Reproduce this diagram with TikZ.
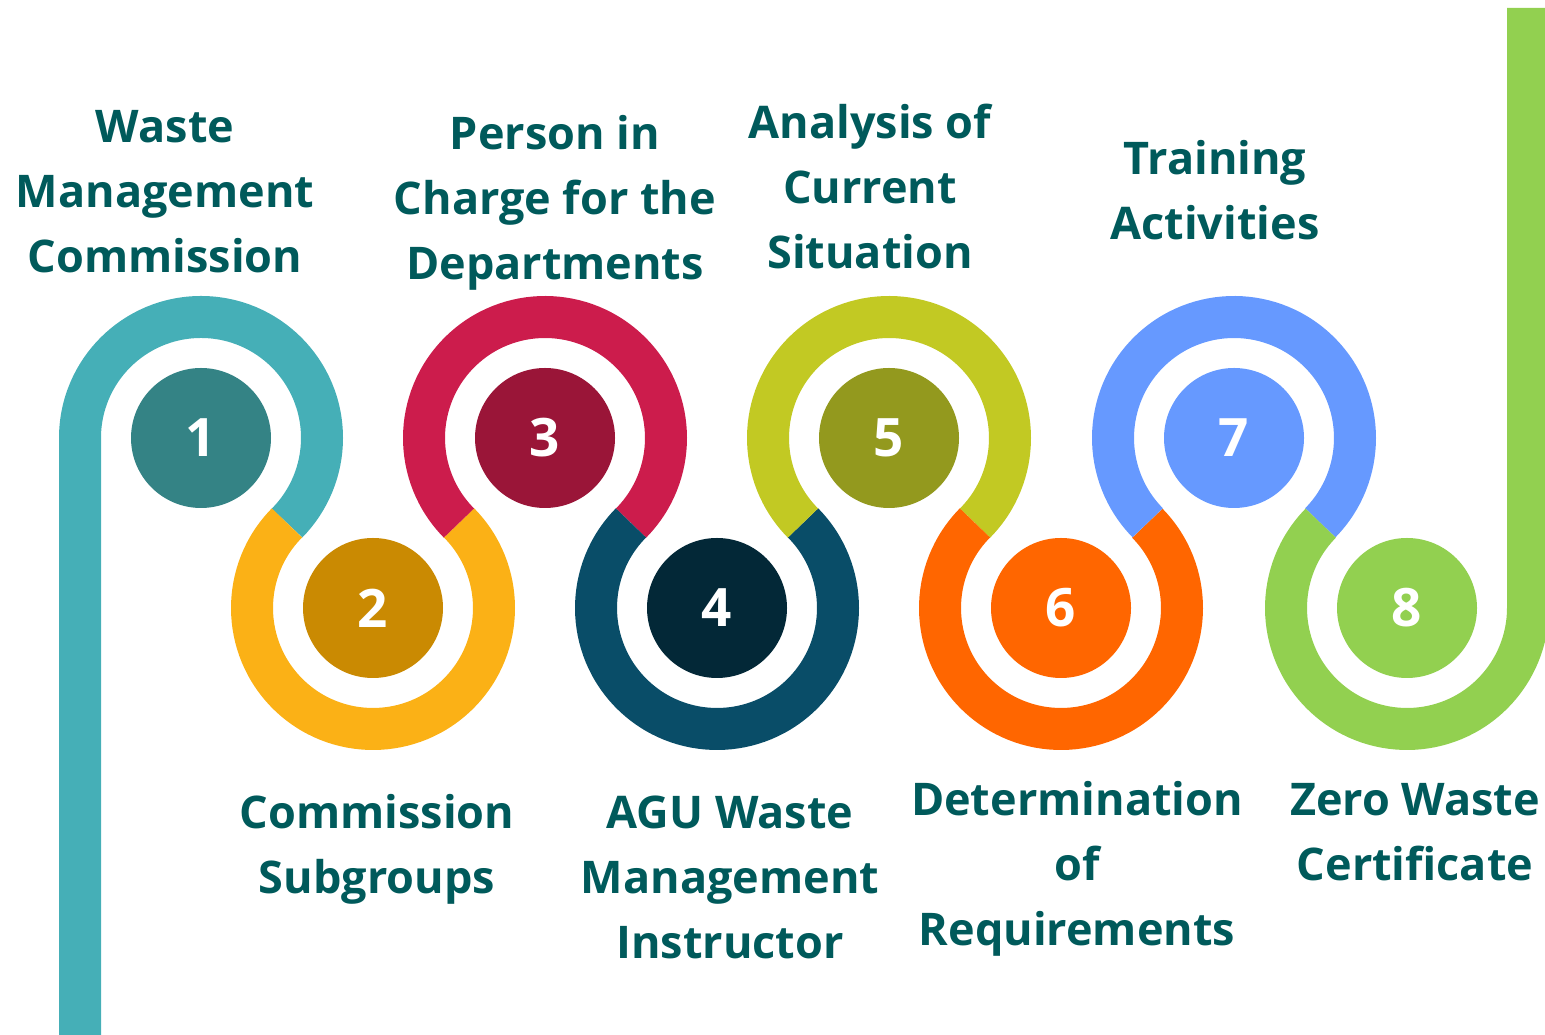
\documentclass[tikz,border=0pt]{standalone}
\usepackage{fontspec}
\setmainfont{Open Sans}[BoldFont={* Bold}]
\usetikzlibrary{calc}
\definecolor{txt}{HTML}{005A5B}
\definecolor{r1}{HTML}{45AFB7}\definecolor{k1}{HTML}{348385}
\definecolor{r2}{HTML}{FBB116}\definecolor{k2}{HTML}{CA8A02}
\definecolor{r3}{HTML}{CC1C4C}\definecolor{k3}{HTML}{9A1538}
\definecolor{r4}{HTML}{094D68}\definecolor{k4}{HTML}{032837}
\definecolor{r5}{HTML}{C2C923}\definecolor{k5}{HTML}{93991E}
\definecolor{r6}{HTML}{FF6600}\definecolor{k6}{HTML}{FF6600}
\definecolor{r7}{HTML}{6699FF}\definecolor{k7}{HTML}{6699FF}
\definecolor{r8}{HTML}{92D050}\definecolor{k8}{HTML}{92D050}
\tikzset{
  ring/.style={line width=42pt, line cap=butt},
  disc/.style={circle, minimum size=140pt, inner sep=0pt, text=white,
    font=\fontsize{53}{53}\selectfont\bfseries},
  label/.style={align=center, text=txt, inner sep=0pt,
    font=\fontsize{45}{65}\selectfont\bfseries}
}
\begin{document}
\begin{tikzpicture}[x=1pt,y=1pt]
\useasboundingbox (0,0) rectangle (1545,1035);
% discs
\node[disc, fill=k1] (c1) at (201,597) {1};
\node[disc, fill=k2] (c2) at (373,427) {2};
\node[disc, fill=k3] (c3) at (545,597) {3};
\node[disc, fill=k4] (c4) at (717,427) {4};
\node[disc, fill=k5] (c5) at (889,597) {5};
\node[disc, fill=k6] (c6) at (1061,427) {6};
\node[disc, fill=k7] (c7) at (1234,597) {7};
\node[disc, fill=k8] (c8) at (1407,427) {8};
\coordinate (startpt) at (80,-5);
\coordinate (endpt) at (1528,1027);
% rings
\draw[ring, r1] (startpt) -- ++(0,602) arc[start angle=180, end angle=-44.66, radius=121];
\draw[ring, r2] (c2) ++(135.34:121) arc[start angle=135.34, end angle=404.66, radius=121];
\draw[ring, r3] (c3) ++(224.66:121) arc[start angle=224.66, end angle=-44.66, radius=121];
\draw[ring, r4] (c4) ++(135.34:121) arc[start angle=135.34, end angle=404.66, radius=121];
\draw[ring, r5] (c5) ++(224.66:121) arc[start angle=224.66, end angle=-44.66, radius=121];
\draw[ring, r6] (c6) ++(135.34:121) arc[start angle=135.34, end angle=404.48, radius=121];
\draw[ring, r7] (c7) ++(224.48:121) arc[start angle=224.48, end angle=-44.5, radius=121];
\draw[ring, r8] (c8) ++(135.5:121) arc[start angle=135.5, end angle=360, radius=121] -- (endpt);
% labels
\node[label] (l1) at (165,843) {Waste\\Management\\Commission};
\node[label] (l3) at (555,832) {Person in\\Charge for the\\Departments};
\node[label] (l5) at (870,848) {Analysis of\\Current\\Situation};
\node[label] (l7) at (1215,845) {Training\\Activities};
\node[label] (l2) at (377,186) {Commission\\Subgroups};
\node[label] (l4) at (730,158) {AGU Waste\\Management\\Instructor};
\node[label] (l6) at (1077,166) {Determination\\of\\Requirements};
\node[label] (l8) at (1415,203) {Zero Waste\\Certificate};
\end{tikzpicture}
\end{document}
